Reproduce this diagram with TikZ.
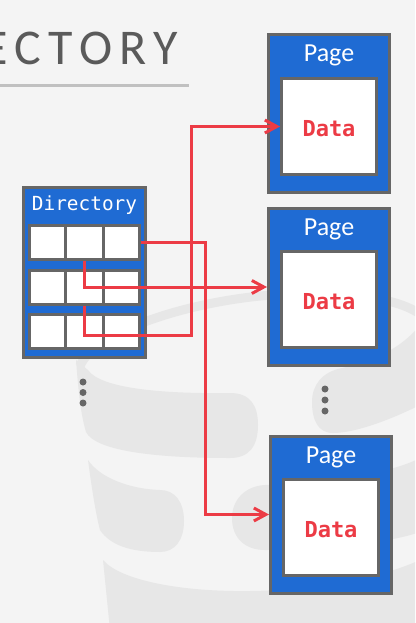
\documentclass[tikz,border=0pt]{standalone}
\usepackage{fontspec}
\setmainfont{Carlito}
\newfontfamily\titlefont[LetterSpace=15]{Carlito}
\newfontfamily\monofont{DejaVu Sans Mono}
\usetikzlibrary{arrows.meta,calc}
\definecolor{bg}{HTML}{F4F4F4}
\definecolor{wm}{HTML}{E7E7E7}
\definecolor{boxblue}{HTML}{1F6BD3}
\definecolor{edge}{HTML}{666666}
\definecolor{ptr}{HTML}{EC3B45}
\definecolor{titlegray}{HTML}{5A5A5A}
\definecolor{rulegray}{HTML}{C0C0C0}
\begin{document}
\begin{tikzpicture}[x=1pt,y=-1pt,
  pagebox/.style={draw=edge, line width=3pt, fill=boxblue, minimum width=121pt, minimum height=157pt, inner sep=0pt},
  databox/.style={draw=edge, line width=3pt, fill=white, minimum width=95pt, minimum height=96pt, inner sep=0pt,
    text height=20pt, text depth=0pt, font=\monofont\bfseries\fontsize{22}{22}\selectfont, text=ptr},
  pagelabel/.style={font=\fontsize{26}{26}\selectfont, text=white, inner sep=0pt, anchor=base},
  dirbox/.style={draw=edge, line width=3pt, fill=boxblue, minimum width=122pt, minimum height=170pt, inner sep=0pt},
  dirlabel/.style={font=\monofont\fontsize{19.4}{19.4}\selectfont, text=white, inner sep=0pt, anchor=base},
  rowbox/.style={draw=edge, line width=3pt, fill=white, minimum width=110pt, minimum height=34pt, inner sep=0pt},
  cellsep/.style={draw=edge, line width=3pt},
  ptrline/.style={draw=ptr, line width=3pt, -{Straight Barb[length=12pt,width=13pt]}},
  vdot/.style={circle, fill=edge, inner sep=0pt, minimum size=7pt},
]
\useasboundingbox (0,0) rectangle (415,623);
\clip (0,0) rectangle (415,623);
\fill[bg] (0,0) rectangle (415,623);

% faint database watermark
\fill[wm] (76,360) .. controls (78,385) and (80,412) .. (86,432) .. controls (95,450) and (150,458) .. (230,458) .. controls (250,458) and (258,445) .. (258,425) .. controls (258,405) and (250,393) .. (230,393) .. controls (160,394) and (100,388) .. (88,370) -- cycle;
\draw[wm, line width=9pt] (80,366) .. controls (95,330) and (200,297) .. (290,294) .. controls (360,292) and (405,300) .. (425,318);
\fill[wm] (420,325) -- (420,405) .. controls (390,420) and (355,433) .. (333,433) .. controls (318,433) and (312,420) .. (312,402) .. controls (312,385) and (322,372) .. (342,368) .. controls (372,362) and (402,348) .. (420,325) -- cycle;
\fill[wm] (88,460) .. controls (92,490) and (96,515) .. (100,530) .. controls (110,545) and (130,552) .. (160,552) .. controls (175,552) and (184,540) .. (184,521) .. controls (184,502) and (175,490) .. (160,490) .. controls (130,489) and (100,478) .. (88,460) -- cycle;
\fill[wm] (420,458) -- (420,532) .. controls (380,546) and (300,550) .. (265,550) .. controls (245,550) and (232,538) .. (232,518) .. controls (232,500) and (245,486) .. (265,485) .. controls (320,484) and (390,474) .. (420,458) -- cycle;
\fill[wm] (103,560) .. controls (106,590) and (108,610) .. (110,630) -- (420,630) -- (420,560) .. controls (380,578) and (320,590) .. (250,591) .. controls (180,592) and (120,580) .. (103,560) -- cycle;

% title
\node[anchor=base west, inner sep=0pt, font=\titlefont\fontsize{50}{50}\selectfont, text=titlegray] (title) at (-17,65) {ECTORY};
\draw[rulegray, line width=3pt] (0,86) -- (189,86);

% directory
\node[dirbox] (dir) at (84.5,272.5) {};
\node[dirlabel] (dirlabel) at (84.5,210) {Directory};
\node[rowbox] (row1) at (84.5,242.5) {};
\node[rowbox] (row2) at (84.5,287) {};
\node[rowbox] (row3) at (84.5,331.5) {};
\foreach \r in {row1,row2,row3}{
  \draw[cellsep] ($(\r.north west)!1/3!(\r.north east)$) -- ($(\r.south west)!1/3!(\r.south east)$);
  \draw[cellsep] ($(\r.north west)!2/3!(\r.north east)$) -- ($(\r.south west)!2/3!(\r.south east)$);
}
\node[vdot] (dd1) at (83,382) {};
\node[vdot] (dd2) at (83,392.5) {};
\node[vdot] (dd3) at (83,403) {};

% pages
\node[pagebox] (page1) at (329,113.5) {};
\node[databox] (data1) at (329,126.5) {Data};
\node[pagelabel] (pl1) at (329,62) {Page};

\node[pagebox] (page2) at (329,287) {};
\node[databox] (data2) at (329,299.5) {Data};
\node[pagelabel] (pl2) at (329,235) {Page};

\node[pagebox] (page3) at (331,514.5) {};
\node[databox] (data3) at (331,527) {Data};
\node[pagelabel] (pl3) at (331,463) {Page};

\node[vdot] (pd1) at (325,389) {};
\node[vdot] (pd2) at (325,400) {};
\node[vdot] (pd3) at (325,411) {};

% pointers
\coordinate (k1) at (205,514.5);
\coordinate (k3) at (191,335);
\draw[ptrline] (row1.east) -| (k1) -- (page3.west);
\draw[ptrline] (row1.south) |- (page2.west);
\draw[ptrline] (row2.south) |- (k3) |- (data1.west);
\end{tikzpicture}
\end{document}
